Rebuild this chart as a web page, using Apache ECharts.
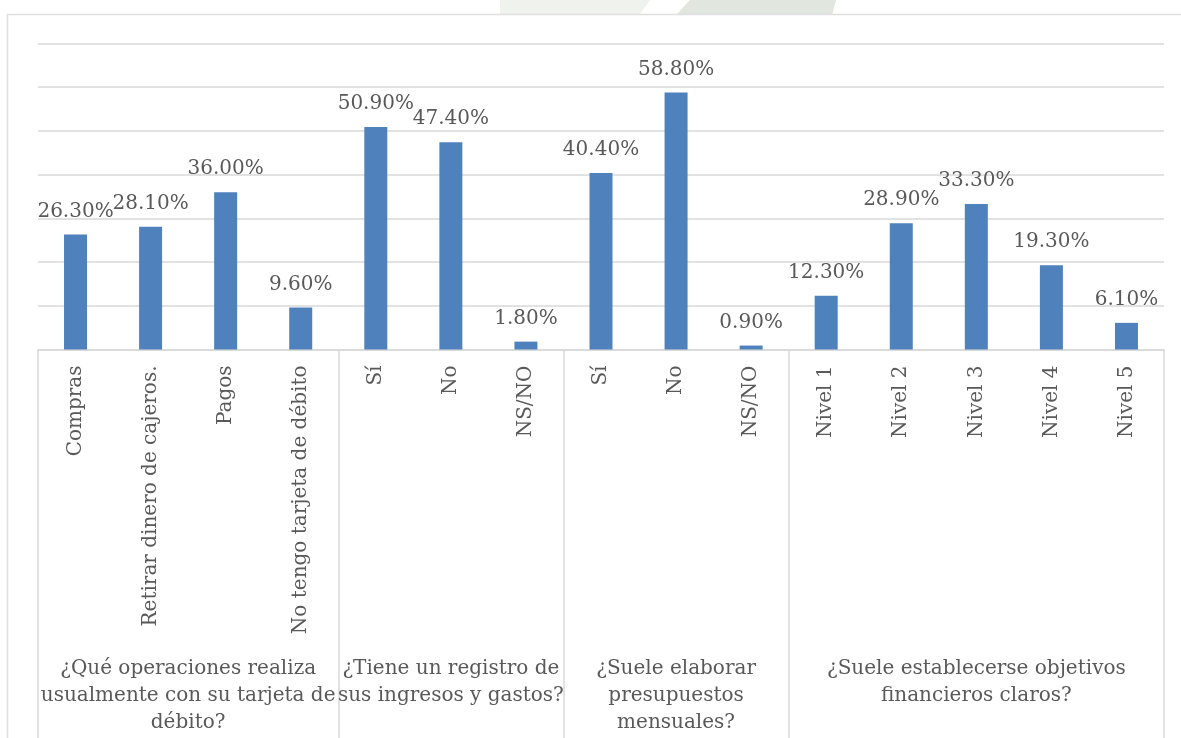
<!DOCTYPE html>
<html>
<head>
<meta charset="utf-8">
<script src="https://cdn.jsdelivr.net/npm/echarts@6/dist/echarts.min.js"></script>
<style>
  html, body { margin: 0; padding: 0; background: #ffffff; }
  #chart { width: 1181px; height: 738px; }
</style>
</head>
<body>
<div id="chart"></div>
<script>
// Answer options (first level of the category axis)
const categories = [
  'Compras', 'Retirar dinero de cajeros.', 'Pagos', 'No tengo tarjeta de débito',
  'Sí', 'No', 'NS/NO',
  'Sí', 'No', 'NS/NO',
  'Nivel 1', 'Nivel 2', 'Nivel 3', 'Nivel 4', 'Nivel 5'
];
// Share of respondents, in percent
const values = [26.3, 28.1, 36.0, 9.6, 50.9, 47.4, 1.8, 40.4, 58.8, 0.9, 12.3, 28.9, 33.3, 19.3, 6.1];
// Questions (second level of the category axis), one entry per line, and how many options each has
const groupNames = [
  ['¿Qué operaciones realiza', 'usualmente con su tarjeta de', 'débito?'],
  ['¿Tiene un registro de', 'sus ingresos y gastos?'],
  ['¿Suele elaborar', 'presupuestos', 'mensuales?'],
  ['¿Suele establecerse objetivos', 'financieros claros?']
];
const groupSizes = [4, 3, 3, 5];
// Value axis range
const yMin = 0, yMax = 70, yStep = 10;

// Group boundaries and centers in category-index units
const boundaries = [-0.5];
const centers = [];
let start = 0;
groupSizes.forEach(function (n) {
  centers.push(start + (n - 1) / 2);
  start += n;
  boundaries.push(start - 0.5);
});

const FONT = 'DejaVu Serif';
const TEXT = '#595959';
const GRID = '#d9d9d9';

const chart = echarts.init(document.getElementById('chart'), null, { renderer: 'canvas' });

chart.setOption({
  animation: false,
  backgroundColor: '#ffffff',
  textStyle: { fontFamily: FONT, color: TEXT },
  grid: { left: 38, right: 17, top: 43.5, bottom: 388.5, containLabel: false },
  graphic: [
    // faint page seal peeking above the chart frame
    {
      type: 'polygon', silent: true, z: -10,
      shape: { points: [[500, 0], [650, 0], [640, 14], [500, 14]] },
      style: { fill: '#f0f2ee' }
    },
    {
      type: 'polygon', silent: true, z: -10,
      shape: { points: [[690, 0], [836, 0], [832, 15], [676, 15]] },
      style: { fill: '#e1e6de' }
    },
    // chart frame (left and top edges)
    {
      type: 'polyline', silent: true,
      shape: { points: [[7.5, 740], [7.5, 14.5], [1181, 14.5]] },
      style: { fill: null, stroke: '#e0e0e0', lineWidth: 1.5 }
    }
  ],
  xAxis: [
    {
      type: 'category',
      data: categories,
      boundaryGap: true,
      axisLine: { show: true, lineStyle: { color: GRID, width: 1.5 } },
      axisTick: { show: false },
      axisLabel: {
        interval: 0,
        rotate: 90,
        margin: 16,
        fontFamily: FONT,
        fontSize: 20,
        color: TEXT
      }
    },
    {
      type: 'value',
      min: -0.5,
      max: 14.5,
      position: 'bottom',
      axisLine: { show: false },
      splitLine: { show: false },
      axisTick: {
        show: true,
        customValues: boundaries,
        length: 392,
        lineStyle: { color: GRID, width: 1.5 }
      },
      axisLabel: {
        customValues: centers,
        margin: 306,
        align: 'center',
        formatter: function (v) {
          const i = centers.findIndex(function (c) { return Math.abs(c - v) < 1e-6; });
          if (i < 0) return '';
          return groupNames[i].map(function (line) { return '{g|' + line + '}'; }).join('\n');
        },
        rich: {
          g: { fontFamily: FONT, fontSize: 20, lineHeight: 27, color: TEXT, align: 'center' }
        }
      }
    }
  ],
  yAxis: {
    type: 'value',
    min: yMin,
    max: yMax,
    interval: yStep,
    axisLine: { show: false },
    axisTick: { show: false },
    axisLabel: { show: false },
    splitLine: { show: true, lineStyle: { color: GRID, width: 1.5 } }
  },
  series: [{
    type: 'bar',
    xAxisIndex: 0,
    data: values,
    barWidth: 23,
    itemStyle: { color: '#4f81bd' },
    label: {
      show: true,
      position: 'top',
      distance: 13,
      fontFamily: FONT,
      fontSize: 20,
      color: TEXT,
      formatter: function (p) { return p.value.toFixed(2) + '%'; }
    }
  }]
});
</script>
</body>
</html>
